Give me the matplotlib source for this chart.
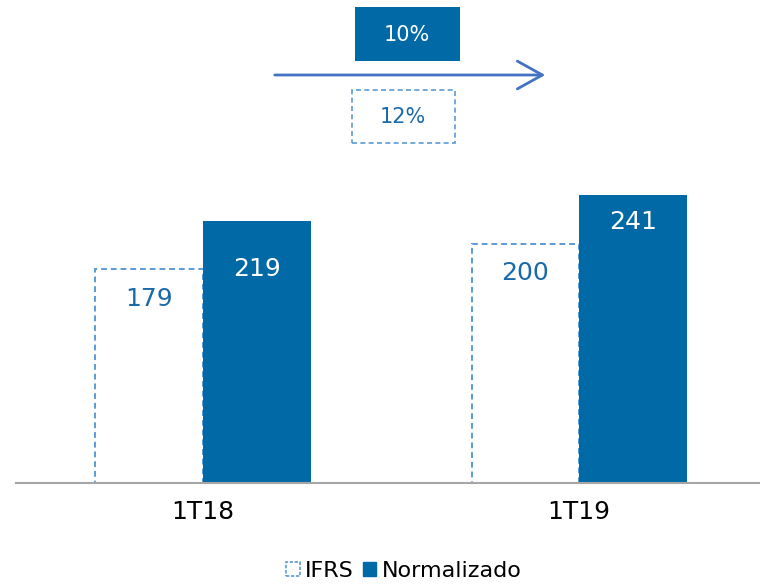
import matplotlib.pyplot as plt
import matplotlib.patches as mpatches
import numpy as np

# Data:
periods = ['1T18', '1T19']
ifrs = [179, 200]
normalizado = [219, 241]
series_names = ['IFRS', 'Normalizado']
growth_norm = '10%'
growth_ifrs = '12%'

# Style:
dark_blue = '#0069a6'
light_blue = '#5b9bd5'
text_blue = '#1a6aab'
arrow_blue = '#4472c4'
W, H = 760, 585


def fx(px):
    return px / W


def fy(py):
    return 1 - py / H


plt.rcParams['font.family'] = ['DejaVu Sans']

fig = plt.figure(figsize=(7.6, 5.85), dpi=100)
ax = fig.add_axes([fx(16), fy(483), fx(760 - 16), 483 / H])

x = np.arange(len(periods))
w = 0.286
ax.bar(x - w / 2, ifrs, w, facecolor='white', edgecolor=light_blue,
       linestyle=(0, (3, 2)), linewidth=1.4, zorder=2)
ax.bar(x + w / 2, normalizado, w, color=dark_blue, zorder=2)

ax.set_xlim(-0.497, 1.481)
ax.set_ylim(0, 483 / 1.196)

# Value labels (offset below bar top, in pixels)
for xi, v, off in zip(x, ifrs, [30, 29]):
    ax.annotate(str(v), (xi - w / 2, v), xytext=(0, -off * 0.72),
                textcoords='offset points', ha='center', va='center',
                fontsize=18, color=text_blue)
for xi, v, off in zip(x, normalizado, [48, 27]):
    ax.annotate(str(v), (xi + w / 2, v), xytext=(0, -off * 0.72),
                textcoords='offset points', ha='center', va='center',
                fontsize=18, color='white')

for s in ['top', 'right', 'left']:
    ax.spines[s].set_visible(False)
ax.spines['bottom'].set_color('#a6a6a6')
ax.spines['bottom'].set_linewidth(1.5)
ax.set_yticks([])
ax.set_xticks(x)
ax.set_xticklabels(periods, fontsize=18)
ax.tick_params(axis='x', length=0, pad=12)

# Growth boxes and arrow
fig.patches.append(mpatches.Rectangle((fx(355), fy(61)), fx(105), 54 / H,
                                      transform=fig.transFigure,
                                      facecolor=dark_blue, edgecolor='none'))
fig.text(fx(407), fy(35), growth_norm, ha='center', va='center',
         fontsize=15, color='white')
fig.patches.append(mpatches.Rectangle((fx(352), fy(143)), fx(103), 53 / H,
                                      transform=fig.transFigure,
                                      facecolor='white', edgecolor=light_blue,
                                      linestyle=(0, (3, 2)), linewidth=1.2))
fig.text(fx(403), fy(117), growth_ifrs, ha='center', va='center',
         fontsize=15, color=text_blue)
fig.add_artist(mpatches.FancyArrowPatch((fx(272), fy(75)), (fx(548), fy(75)),
                                        transform=fig.transFigure,
                                        arrowstyle='->,head_length=0.9,head_width=0.5',
                                        mutation_scale=20, color=arrow_blue,
                                        linewidth=2))

# Legend
handles = [mpatches.Patch(facecolor='white', edgecolor=light_blue,
                          linestyle=(0, (2, 1)), linewidth=1.2),
           mpatches.Patch(facecolor=dark_blue, edgecolor=dark_blue)]
fig.legend(handles, series_names, loc='center', bbox_to_anchor=(fx(404), fy(571)),
           ncol=2, frameon=False, fontsize=16, handlelength=0.6,
           handleheight=0.6, handletextpad=0.25, columnspacing=0.4)

plt.savefig('out.png', dpi=100)
